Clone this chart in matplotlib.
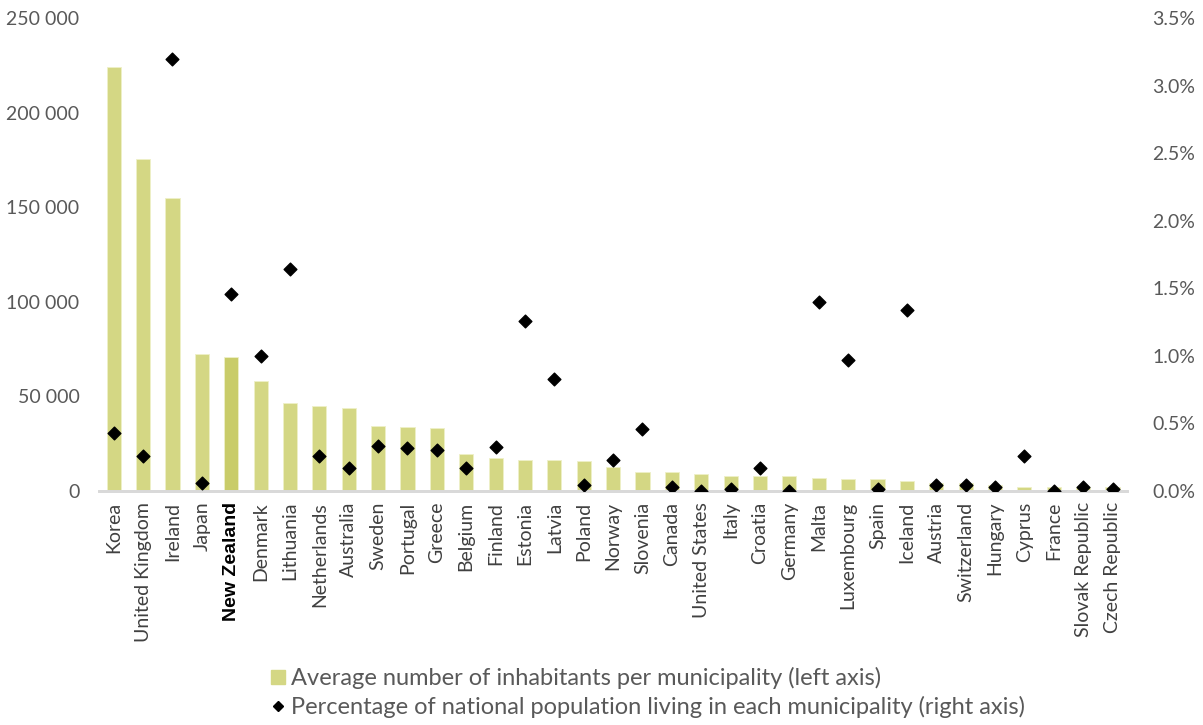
import matplotlib.pyplot as plt
from matplotlib.lines import Line2D
from matplotlib.ticker import FuncFormatter

plt.rcParams['font.family'] = ['Lato', 'DejaVu Sans']

countries = ["Korea", "United Kingdom", "Ireland", "Japan", "New Zealand", "Denmark",
             "Lithuania", "Netherlands", "Australia", "Sweden", "Portugal", "Greece",
             "Belgium", "Finland", "Estonia", "Latvia", "Poland", "Norway", "Slovenia",
             "Canada", "United States", "Italy", "Croatia", "Germany", "Malta",
             "Luxembourg", "Spain", "Iceland", "Austria", "Switzerland", "Hungary",
             "Cyprus", "France", "Slovak Republic", "Czech Republic"]
# average number of inhabitants per municipality
inhabitants = [224000, 175500, 154700, 72200, 70700, 58100, 46600, 44900, 44000,
               34400, 33600, 33400, 19400, 17300, 16400, 16400, 15600, 12500, 9900,
               9800, 8800, 7900, 7800, 7800, 6900, 6000, 6000, 5100, 3900, 3900,
               3000, 1900, 1900, 1900, 1700]
# percentage of national population in each municipality
share = [0.43, 0.26, 3.20, 0.055, 1.46, 1.00, 1.64, 0.26, 0.17, 0.33, 0.316, 0.30,
         0.17, 0.32, 1.26, 0.83, 0.04, 0.23, 0.46, 0.027, 0.0, 0.015, 0.17, 0.0,
         1.40, 0.97, 0.015, 1.335, 0.04, 0.04, 0.027, 0.26, 0.0, 0.027, 0.015]

highlight = "New Zealand"
bar_col = "#d4d784"
hl_col = "#c9cc69"
grey = "#595959"

fig = plt.figure(figsize=(12.03, 7.25), dpi=100)
ax = fig.add_axes([0.0823, 0.3232, 0.8547, 0.6518])
ax2 = ax.twinx()

x = list(range(len(countries)))
cols = [hl_col if c == highlight else bar_col for c in countries]
ax.bar(x, inhabitants, width=0.48, color=cols, edgecolor="#eef0c8", linewidth=0.6, zorder=2)
ax2.scatter(x, share, marker="D", s=42, color="black", zorder=3)

ax.set_xlim(-0.5, len(countries) - 0.5)
ax.set_ylim(0, 250000)
ax2.set_ylim(0, 3.5)
ax.set_yticks([0, 50000, 100000, 150000, 200000, 250000])
ax2.set_yticks([0, 0.5, 1.0, 1.5, 2.0, 2.5, 3.0, 3.5])
ax.yaxis.set_major_formatter(FuncFormatter(lambda v, p: f"{int(v):,}".replace(",", " ")))
ax2.yaxis.set_major_formatter(FuncFormatter(lambda v, p: f"{v:.1f}%"))

for a in (ax, ax2):
    for s in ["top", "left", "right"]:
        a.spines[s].set_visible(False)
    a.spines["bottom"].set_color("#d9d9d9")
    a.spines["bottom"].set_linewidth(2)
    a.tick_params(axis="y", length=0, labelsize=14, labelcolor=grey)
ax.tick_params(axis="y", pad=14)
ax2.tick_params(axis="y", pad=18)

ax.set_xticks(x)
ax.set_xticklabels(countries, rotation=90, fontsize=14, color="#404040")
ax.tick_params(axis="x", length=0, pad=8)
for lab in ax.get_xticklabels():
    if lab.get_text() == highlight:
        lab.set_fontweight("bold")
        lab.set_color("black")
        lab.set_family(["Liberation Sans", "DejaVu Sans"])

handles = [
    Line2D([], [], marker="s", linestyle="none", color=bar_col, markersize=10),
    Line2D([], [], marker="D", linestyle="none", color="black", markersize=5),
]
labels = ["Average number of inhabitants per municipality (left axis)",
          "Percentage of national population living in each municipality (right axis)"]
fig.legend(handles, labels, loc="upper left", bbox_to_anchor=(0.218, 0.093),
           frameon=False, fontsize=17, labelcolor=grey, handlelength=0.5,
           handletextpad=0.3, labelspacing=0.3, borderaxespad=0)

fig.savefig("out.png", dpi=100)
